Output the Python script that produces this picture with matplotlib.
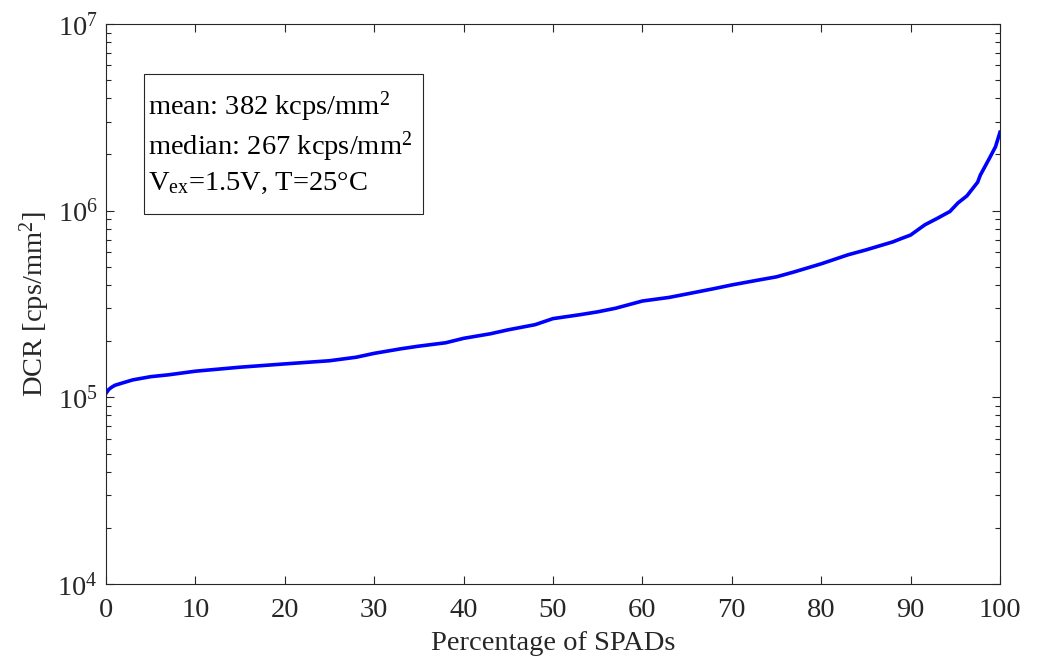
import numpy as np
import matplotlib
matplotlib.use('Agg')
import matplotlib.pyplot as plt
from matplotlib.patches import Rectangle
from matplotlib.ticker import LogLocator

plt.rcParams['font.family'] = ['Liberation Serif', 'DejaVu Serif']
plt.rcParams['mathtext.fontset'] = 'custom'
plt.rcParams['mathtext.rm'] = 'Liberation Serif'
plt.rcParams['mathtext.it'] = 'Liberation Serif:italic'

# percentage of SPADs vs dark count rate (cps/mm^2)
pct = [0, 0.3, 0.6, 1, 2, 3, 5, 7, 10, 15, 20, 25, 28, 30, 33, 35, 38, 40,
       43, 45, 48, 50, 53, 55, 57, 60, 63, 65, 68, 70, 73, 75, 77, 80, 83,
       85, 88, 89, 90, 90.5, 91.6, 93, 94.4, 95.3, 96.3, 97.5, 97.8, 98.8,
       99.5, 100]
dcr = [1.05e5, 1.10e5, 1.13e5, 1.16e5, 1.20e5, 1.24e5, 1.29e5, 1.32e5,
       1.38e5, 1.45e5, 1.51e5, 1.57e5, 1.64e5, 1.72e5, 1.82e5, 1.88e5,
       1.96e5, 2.07e5, 2.19e5, 2.30e5, 2.45e5, 2.64e5, 2.77e5, 2.87e5,
       3.00e5, 3.28e5, 3.43e5, 3.58e5, 3.82e5, 4.00e5, 4.25e5, 4.42e5,
       4.70e5, 5.19e5, 5.80e5, 6.16e5, 6.80e5, 7.10e5, 7.40e5, 7.70e5,
       8.40e5, 9.10e5, 9.90e5, 1.10e6, 1.20e6, 1.42e6, 1.55e6, 1.90e6,
       2.20e6, 2.63e6]

info = ['mean: 382 kcps/mm$^2$',
        'median: 267 kcps/mm$^2$',
        'V$_{\\rm ex}$=1.5V, T=25°C']
info_y = [0.8375, 0.766, 0.7036]  # baselines, axes fraction

gray = '#262626'
fs = 20.5

fig = plt.figure(figsize=(10.37, 6.63), dpi=100)
ax = fig.add_axes([0.1022, 0.1192, 0.8621, 0.8446])
ax.plot(pct, dcr, color='#0000ff', lw=2.6)
ax.set_yscale('log')
ax.set_xlim(0, 100)
ax.set_ylim(1e4, 1e7)
ax.set_xticks(np.arange(0, 101, 10))
ax.yaxis.set_major_locator(LogLocator(base=10, numticks=10))
ax.yaxis.set_minor_locator(LogLocator(base=10, subs=np.arange(2, 10), numticks=10))
ax.tick_params(which='both', direction='in', top=True, right=True,
               colors=gray, labelsize=fs)
ax.tick_params(axis='x', pad=10)
ax.tick_params(axis='y', pad=6)
ax.tick_params(which='major', length=6, width=0.8)
ax.tick_params(which='minor', length=3.5, width=0.8)
for s in ax.spines.values():
    s.set_color(gray)
    s.set_linewidth(0.8)

ax.set_xlabel('Percentage of SPADs', fontsize=fs, color=gray, labelpad=6)
ax.set_ylabel('DCR [cps/mm$^2$]', fontsize=fs, color=gray, labelpad=4)

ax.add_patch(Rectangle((0.0425, 0.6607), 0.3121, 0.25, transform=ax.transAxes,
                       fc='white', ec=gray, lw=0.8, zorder=3))
for line, yy in zip(info, info_y):
    ax.text(0.047, yy, line, transform=ax.transAxes, fontsize=fs,
            va='baseline', ha='left', color='black', zorder=4)

fig.savefig('out.png', dpi=100)
